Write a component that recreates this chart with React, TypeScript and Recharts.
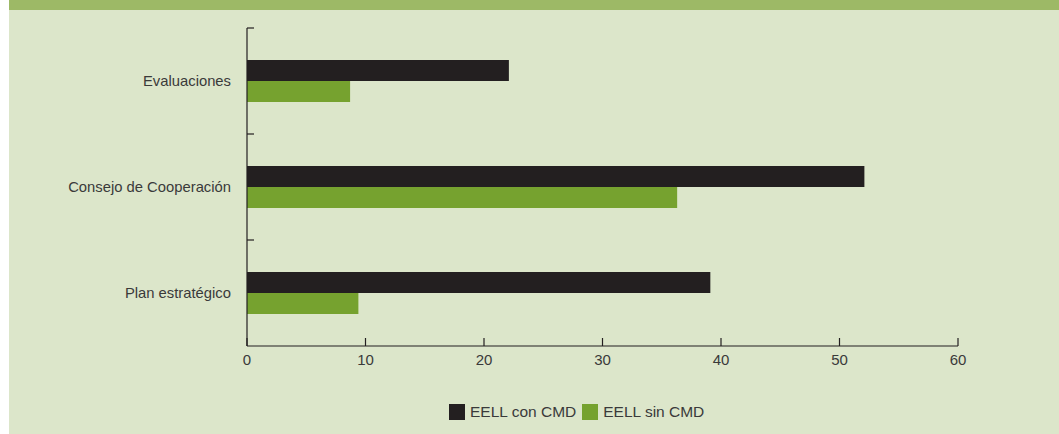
import { Bar, BarChart, XAxis, YAxis } from "recharts"

const categories = ["Evaluaciones", "Consejo de Cooperación", "Plan estratégico"]
const conCmd = [22.1, 52.1, 39.1]
const sinCmd = [8.7, 36.3, 9.4]
const xTicks = [0, 10, 20, 30, 40, 50, 60]

const seriesNames = { con: "EELL con CMD", sin: "EELL sin CMD" }
const colors = { con: "#231f20", sin: "#76a22f" }

const data = categories.map((name, i) => ({ name, con: conCmd[i], sin: sinCmd[i] }))

const W = 1050
const H = 434
const MARGIN = { top: 28, right: 101, bottom: 58, left: 0 }
const X_AXIS_H = 30
const PLOT_H = H - MARGIN.top - MARGIN.bottom - X_AXIS_H
const BAND = PLOT_H / categories.length
const LABEL_GAP = 16
const textColor = "#3a3a3a"
const axisColor = "#231f20"

function CategoryTick(props: any) {
  const { x, y, payload } = props
  const axisX = x + LABEL_GAP
  const top = y - BAND / 2
  return (
    <g>
      <line x1={axisX} x2={axisX + 7} y1={top} y2={top} stroke={axisColor} strokeWidth={1.2} />
      <text x={x} y={y} dy="0.35em" textAnchor="end" fill={textColor} fontSize={14.8}>
        {payload.value}
      </text>
    </g>
  )
}

function LegendBox() {
  const items = [
    { key: "con", label: seriesNames.con, color: colors.con },
    { key: "sin", label: seriesNames.sin, color: colors.sin },
  ]
  return (
    <div
      style={{
        position: "absolute",
        left: 440,
        top: 403,
        display: "flex",
        alignItems: "center",
        fontSize: 15.5,
        color: textColor,
        whiteSpace: "nowrap",
      }}
    >
      {items.map((it) => (
        <div key={it.key} style={{ display: "flex", alignItems: "center", marginRight: 6 }}>
          <span style={{ width: 16, height: 16, background: it.color, display: "inline-block", marginRight: 5 }} />
          <span>{it.label}</span>
        </div>
      ))}
    </div>
  )
}

export default function App() {
  return (
    <div
      style={{
        position: "absolute",
        left: 9,
        top: 0,
        width: W,
        height: H,
        background: "#dce6ca",
        fontFamily: "'Liberation Sans', Arial, sans-serif",
      }}
    >
      <div style={{ height: 10, background: "#9db966" }} />
      <div style={{ position: "absolute", left: 0, top: 0 }}>
        <BarChart
          width={W}
          height={H}
          data={data}
          layout="vertical"
          margin={MARGIN}
          barGap={0}
          barSize={21}
        >
          <XAxis
            type="number"
            domain={[0, 60]}
            ticks={xTicks}
            height={X_AXIS_H}
            tickSize={-8}
            tickMargin={16}
            axisLine={{ stroke: axisColor, strokeWidth: 1.2 }}
            tickLine={{ stroke: axisColor, strokeWidth: 1.2 }}
            tick={{ fill: textColor, fontSize: 15 }}
          />
          <YAxis
            type="category"
            dataKey="name"
            width={238}
            tickSize={0}
            tickMargin={LABEL_GAP}
            axisLine={{ stroke: axisColor, strokeWidth: 1.2 }}
            tickLine={false}
            tick={<CategoryTick />}
            interval={0}
          />
          <Bar dataKey="con" name={seriesNames.con} fill={colors.con} isAnimationActive={false} />
          <Bar dataKey="sin" name={seriesNames.sin} fill={colors.sin} isAnimationActive={false} />
        </BarChart>
      </div>
      <LegendBox />
    </div>
  )
}
